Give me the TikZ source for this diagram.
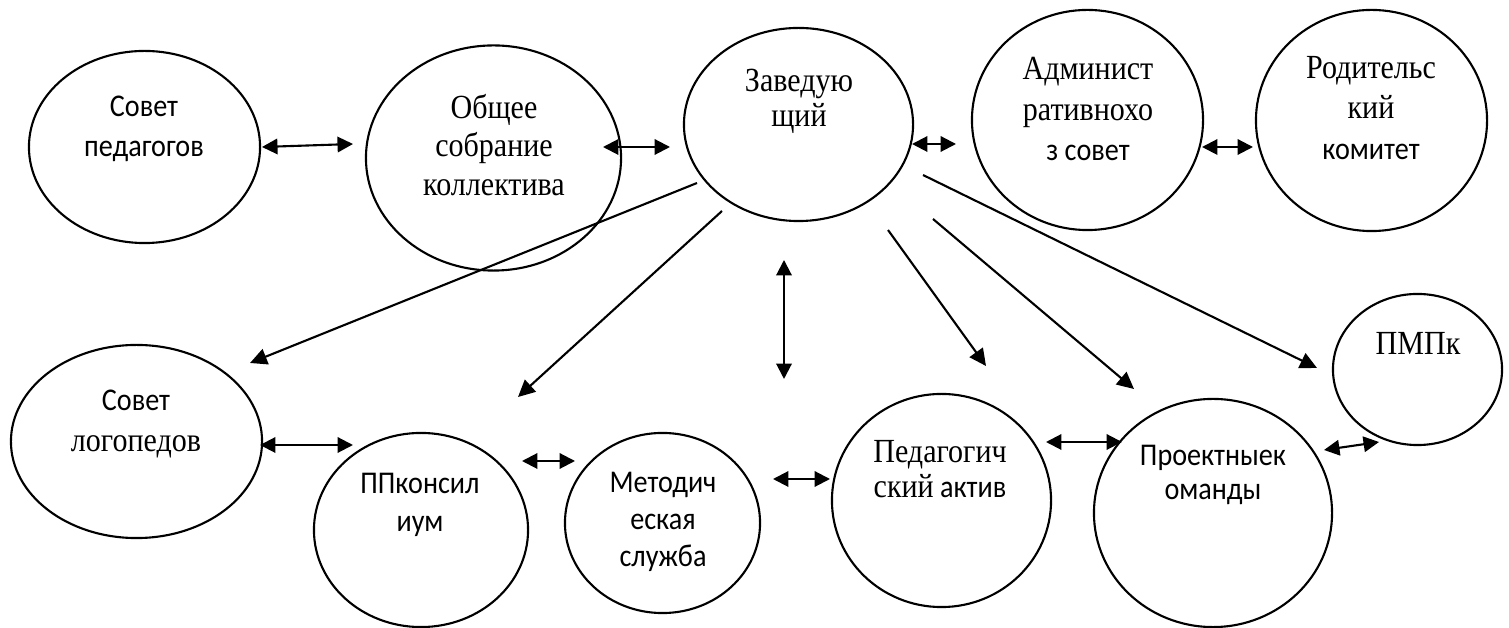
\documentclass[tikz,border=0pt]{standalone}
\usepackage{fontspec}
\setmainfont[FakeStretch=0.89]{Carlito}
\newfontfamily\tms[FakeStretch=0.89]{Liberation Serif}
\usetikzlibrary{shapes.geometric,arrows.meta}
\begin{document}
\begin{tikzpicture}[x=0.01cm,y=-0.01cm,
  ell/.style={draw, ellipse, line width=0.6pt, inner sep=0pt, outer sep=0pt},
  txt/.style={align=center, inner sep=0pt, font=\fontsize{9}{11}\selectfont},
  dbl/.style={{Triangle[length=4.4pt,width=4.4pt]}-{Triangle[length=4.4pt,width=4.4pt]}, line width=0.6pt},
  one/.style={-{Triangle[length=4.8pt,width=4.6pt]}, line width=0.6pt}]
\useasboundingbox (0,0) rectangle (1509,628);

% ellipses
\node[ell, minimum width=2.31cm, minimum height=1.92cm] (sp)   at (144.5,147) {};
\node[ell, minimum width=2.55cm, minimum height=2.25cm] (ob)   at (493.5,158) {};
\node[ell, minimum width=2.29cm, minimum height=1.93cm] (zav)  at (798.5,124.5) {};
\node[ell, minimum width=2.31cm, minimum height=2.20cm] (adm)  at (1087.5,120) {};
\node[ell, minimum width=2.31cm, minimum height=2.21cm] (rod)  at (1371.5,120.5) {};
\node[ell, minimum width=1.69cm, minimum height=1.51cm] (pmpk) at (1417.5,369.5) {};
\node[ell, minimum width=2.51cm, minimum height=1.93cm] (slog) at (136.5,441.5) {};
\node[ell, minimum width=2.14cm, minimum height=1.94cm] (pp)   at (421,530) {};
\node[ell, minimum width=1.95cm, minimum height=1.80cm] (met)  at (662.5,523) {};
\node[ell, minimum width=2.19cm, minimum height=2.13cm] (ped)  at (941.5,500.5) {};
\node[ell, minimum width=2.38cm, minimum height=2.28cm] (proj) at (1213,513) {};

% texts
\node[txt, font=\fontsize{9}{11.3}\selectfont] (tsp) at (144,129) {Совет\\педагогов};
\node[txt, font=\tms\fontsize{9.6}{11}\selectfont] (tob) at (494,145) {Общее\\собрание\\коллектива};
\node[txt, font=\tms\fontsize{9.6}{10}\selectfont] (tzav) at (799,101) {Заведую\\щий};
\node[txt, font=\fontsize{9}{11.6}\selectfont] (tadm) at (1088,109) {{\tms\fontsize{9.6}{11.6}\selectfont Админист}\\{\tms\fontsize{9.6}{11.6}\selectfont ративнохо}\\з совет};
\node[txt, font=\fontsize{9}{11.4}\selectfont] (trod) at (1371,108) {{\tms\fontsize{9.6}{11.4}\selectfont Родительс}\\{\tms\fontsize{9.6}{11.4}\selectfont кий}\\комитет};
\node[txt, font=\tms\fontsize{9.6}{11}\selectfont] (tpmpk) at (1418,343) {ПМПк};
\node[txt, font=\fontsize{9}{11.4}\selectfont] (tslog) at (136,424) {Совет\\{\tms\fontsize{9.6}{11.4}\selectfont логопедов}};
\node[txt, font=\fontsize{9}{10.6}\selectfont] (tpp) at (420,505) {ППконсил\\иум};
\node[txt, font=\fontsize{9}{10.6}\selectfont] (tmet) at (663,522) {Методич\\еская\\служба};
\node[txt, font=\fontsize{9}{10}\selectfont] (tped) at (940,469) {{\tms\fontsize{9.6}{10}\selectfont Педагогич}\\{\tms\fontsize{9.6}{10}\selectfont ский} актив};
\node[txt, font=\fontsize{9}{9.8}\selectfont] (tproj) at (1213,475) {Проектныек\\оманды};

% connector end points
\coordinate (a1) at (262,147);  \coordinate (a2) at (353,144);
\coordinate (b1) at (603,147);  \coordinate (b2) at (670,147);
\coordinate (c1) at (912,144);  \coordinate (c2) at (956,144);
\coordinate (d1) at (1202,147); \coordinate (d2) at (1253,147);
\coordinate (e1) at (260,445);  \coordinate (e2) at (353,445);
\coordinate (f1) at (522,461);  \coordinate (f2) at (575,461);
\coordinate (g1) at (773,479);  \coordinate (g2) at (830,479);
\coordinate (h1) at (1046,442); \coordinate (h2) at (1122,442);
\coordinate (i1) at (1324,450); \coordinate (i2) at (1379,442);
\coordinate (v1) at (784,260);  \coordinate (v2) at (784,379);

\coordinate (s1) at (697,183);  \coordinate (s1e) at (250,363);
\coordinate (s2) at (722,211);  \coordinate (s2e) at (518,397);
\coordinate (s3) at (888,230);  \coordinate (s3e) at (986,366);
\coordinate (s4) at (933,219);  \coordinate (s4e) at (1134,389);
\coordinate (s5) at (923,175);  \coordinate (s5e) at (1317,368);

% double arrows
\draw[dbl] (a1) -- (a2);
\draw[dbl] (b1) -- (b2);
\draw[dbl] (c1) -- (c2);
\draw[dbl] (d1) -- (d2);
\draw[dbl] (e1) -- (e2);
\draw[dbl] (f1) -- (f2);
\draw[dbl] (g1) -- (g2);
\draw[dbl] (h1) -- (h2);
\draw[dbl] (i1) -- (i2);
\draw[dbl] (v1) -- (v2);

% single arrows
\draw[one] (s1) -- (s1e);
\draw[one] (s2) -- (s2e);
\draw[one] (s3) -- (s3e);
\draw[one] (s4) -- (s4e);
\draw[one] (s5) -- (s5e);
\end{tikzpicture}
\end{document}
